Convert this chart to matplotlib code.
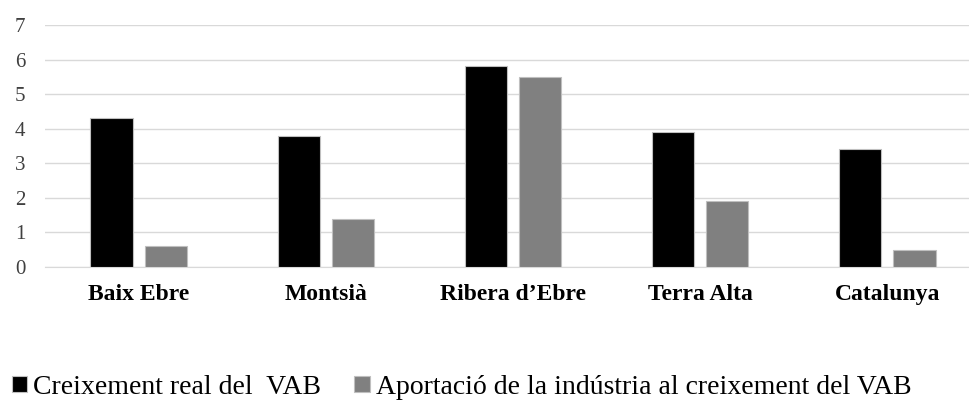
import matplotlib.pyplot as plt
import numpy as np

categories = ["Baix Ebre", "Montsià", "Ribera d\u2019Ebre", "Terra Alta", "Catalunya"]
creixement = [4.3, 3.8, 5.8, 3.9, 3.4]
aportacio = [0.6, 1.4, 5.5, 1.9, 0.5]
series_labels = ["Creixement real del  VAB", "Aportació de la indústria al creixement del VAB"]

plt.rcParams["font.family"] = ["Liberation Serif", "DejaVu Serif"]

fig = plt.figure(figsize=(9.7, 4.01), dpi=100)
ax = fig.add_axes([45 / 970, 134 / 401, 936 / 970, 242 / 401])

x = np.arange(len(categories))
w = 0.225
b1 = ax.bar(x - 0.145, creixement, w, color="#000000", edgecolor="#bfbfbf", linewidth=0.8,
            label=series_labels[0], zorder=3)
b2 = ax.bar(x + 0.145, aportacio, w, color="#808080", edgecolor="#bfbfbf", linewidth=0.8,
            label=series_labels[1], zorder=3)

ax.set_xlim(-0.5, len(categories) - 0.5)
ax.set_ylim(0, 7)
ax.set_yticks(range(0, 8))
ax.yaxis.grid(True, color="#d9d9d9", linewidth=1, zorder=0)
ax.set_axisbelow(True)
for s in ax.spines.values():
    s.set_visible(False)
ax.spines["bottom"].set_visible(True)
ax.spines["bottom"].set_color("#d9d9d9")
ax.tick_params(axis="both", length=0)
ax.tick_params(axis="y", labelsize=15, colors="#404040", pad=14)
ax.set_xticks(x)
ax.set_xticklabels(categories, fontsize=17, fontweight="bold")
ax.tick_params(axis="x", pad=12)

fig.legend(handles=[b1, b2], loc="center left", bbox_to_anchor=(0.012, 0.034), ncol=2,
           frameon=False, fontsize=20, handlelength=0.55, handleheight=0.55,
           handletextpad=0.22, columnspacing=1.2, borderaxespad=0, borderpad=0)

fig.savefig("out.png", dpi=100)
